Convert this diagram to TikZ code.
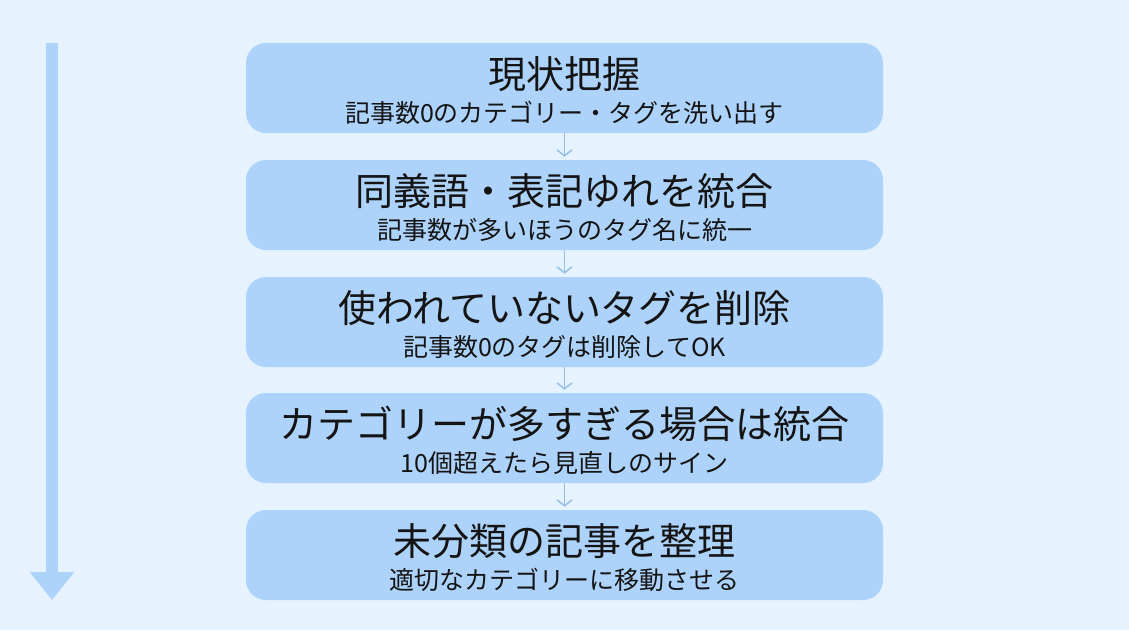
\documentclass[tikz,border=0pt]{standalone}
\usepackage{fontspec}
\setmainfont{Noto Sans CJK JP}
\usetikzlibrary{arrows.meta}
\definecolor{bgblue}{RGB}{230,243,254}
\definecolor{boxblue}{RGB}{173,211,250}
\definecolor{linkblue}{RGB}{150,192,232}
\definecolor{textdark}{RGB}{20,20,20}

\begin{document}
\begin{tikzpicture}[x=1pt,y=-1pt,
  stepbox/.style={fill=boxblue,rounded corners=20pt,minimum width=637pt,minimum height=90pt,inner sep=0pt},
  steptitle/.style={anchor=base,text=textdark,inner sep=0pt,font=\fontsize{38}{38}\selectfont},
  stepnote/.style={anchor=base,text=textdark,inner sep=0pt,font=\fontsize{25}{25}\selectfont},
  link/.style={draw=linkblue,line width=1.5pt,-{Straight Barb[length=6pt,width=15pt]},shorten >=3pt}]
\fill[bgblue] (0,0) rectangle (1129,630);
% big arrow on the left
\coordinate (flowtop) at (52,43);
\coordinate (flowend) at (52,600);
\draw[boxblue,line width=12pt,-{Triangle[length=28pt,width=43pt]}] (flowtop) -- (flowend);
% steps
\node[stepbox] (s1) at (564.5,88) {};
\node[steptitle] (s1t) at (564.5,88.5) {現状把握};
\node[stepnote] (s1n) at (564.5,122) {記事数0のカテゴリー・タグを洗い出す};
\node[stepbox] (s2) at (564.5,205) {};
\node[steptitle] (s2t) at (564.5,205.5) {同義語・表記ゆれを統合};
\node[stepnote] (s2n) at (564.5,239) {記事数が多いほうのタグ名に統一};
\node[stepbox] (s3) at (564.5,322) {};
\node[steptitle] (s3t) at (564.5,322.5) {使われていないタグを削除};
\node[stepnote] (s3n) at (564.5,356) {記事数0のタグは削除してOK};
\node[stepbox] (s4) at (564.5,438) {};
\node[steptitle] (s4t) at (564.5,438.5) {カテゴリーが多すぎる場合は統合};
\node[stepnote] (s4n) at (564.5,472) {10個超えたら見直しのサイン};
\node[stepbox] (s5) at (564.5,555) {};
\node[steptitle] (s5t) at (564.5,555.5) {未分類の記事を整理};
\node[stepnote] (s5n) at (564.5,589) {適切なカテゴリーに移動させる};
% links
\draw[link] (s1.south) -- (s2.north);
\draw[link] (s2.south) -- (s3.north);
\draw[link] (s3.south) -- (s4.north);
\draw[link] (s4.south) -- (s5.north);
\end{tikzpicture}
\end{document}
